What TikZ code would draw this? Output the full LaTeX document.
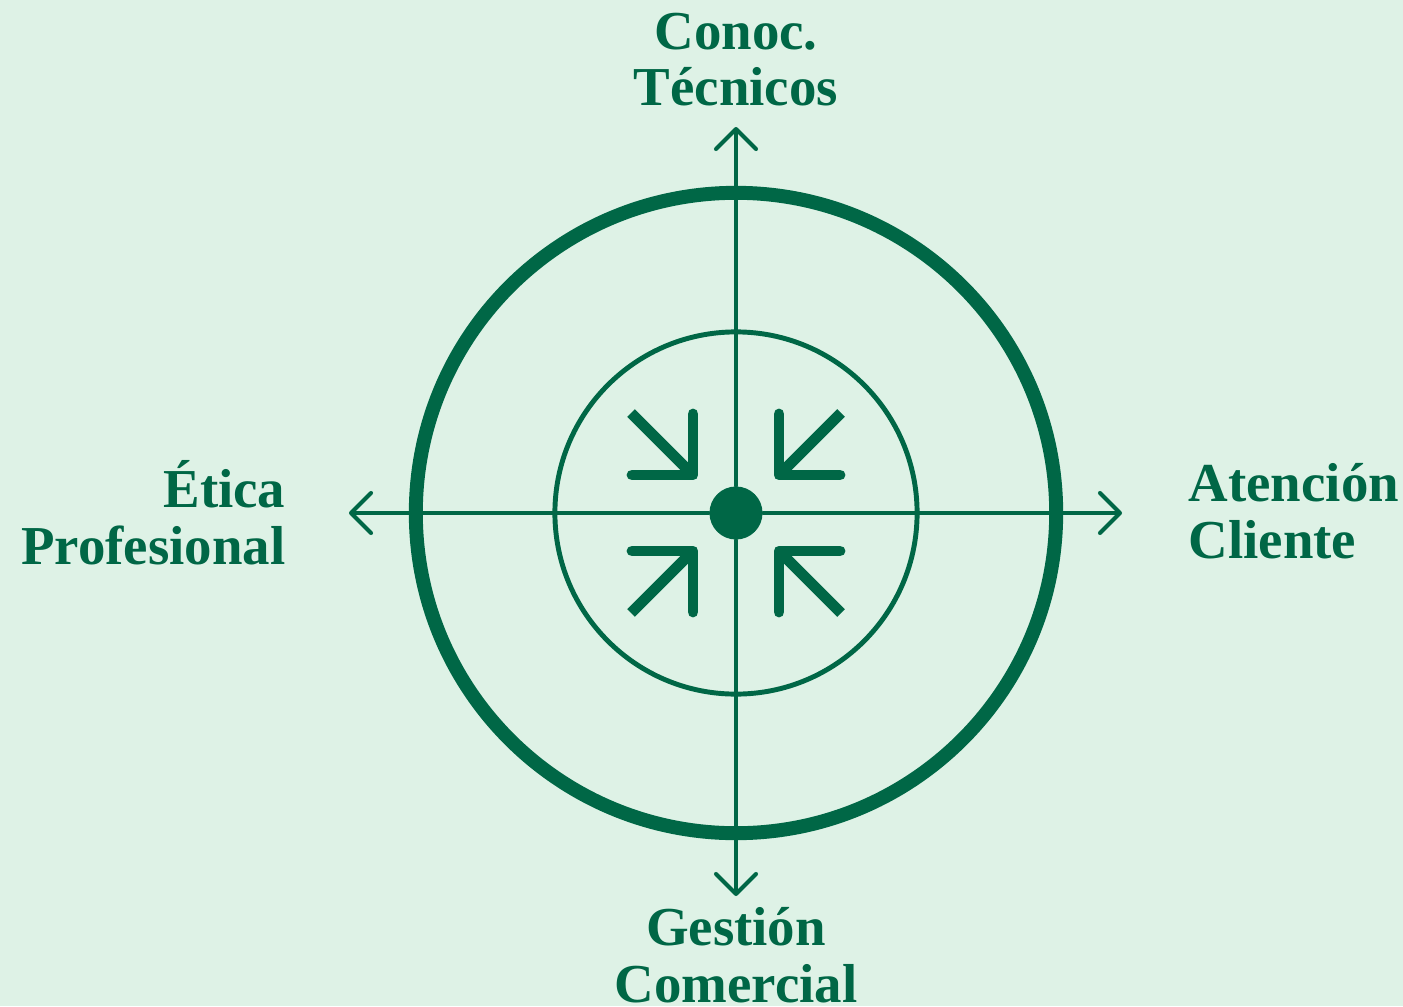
\documentclass[tikz,border=0pt]{standalone}
\usepackage{fontspec}
\setmainfont{Liberation Serif}
\usetikzlibrary{arrows.meta, positioning}
\definecolor{pine}{RGB}{0,103,70}
\definecolor{mint}{RGB}{222,242,230}
\tikzset{
    ring/.style={draw=pine, circle, inner sep=0pt},
    axis/.style={pine, line width=1.15pt, line cap=round, -{Straight Barb[length=0.2cm, width=0.4cm, round]}},
    pull/.style={pine, line width=3.1pt},
    lbl/.style={text=pine, inner sep=0pt, font=\bfseries\fontsize{15.6}{16.2}\selectfont},
}

\begin{document}
\begin{tikzpicture}[x=0.01cm, y=-0.01cm]
    \fill[mint] (0,0) rectangle (1403,1006);
    \useasboundingbox (0,0) rectangle (1403,1006);

    \node[ring, minimum size=6.4cm, line width=3.97pt] (outer) at (736,513) {};
    \node[ring, minimum size=3.62cm, line width=1.4pt] (inner) at (736,513) {};
    \node[circle, fill=pine, inner sep=0pt, minimum size=0.53cm] (hub) at (736,513) {};

    \coordinate (top) at (736,127);
    \coordinate (bottom) at (736,896);
    \coordinate (left) at (349,513);
    \coordinate (right) at (1122,513);
    \foreach \dir in {top,bottom,left,right}
        \draw[axis] (hub) -- (\dir);

    % four arrows pointing at the hub
    \foreach \sx/\sy in {-1/-1, 1/-1, -1/1, 1/1} {
        \draw[pull, line cap=butt] ({736+105*\sx},{513+100*\sy}) -- ({736+43*\sx},{513+38*\sy});
        \draw[pull, line cap=round, line join=round]
            ({736+43*\sx},{513+99*\sy}) -- ({736+43*\sx},{513+38*\sy}) -- ({736+104*\sx},{513+38*\sy});
    }

    \node[lbl, align=center, anchor=north] (knw) at (736,12) {Conoc.\\Técnicos};
    \node[lbl, align=right, anchor=north east] (eth) at (286,460) {Ética\\Profesional};
    \node[lbl, align=left, anchor=north west] (cli) at (1188,463) {Atención\\Cliente};
    \node[lbl, align=center, anchor=north] (com) at (736,907) {Gestión\\Comercial};
\end{tikzpicture}
\end{document}
